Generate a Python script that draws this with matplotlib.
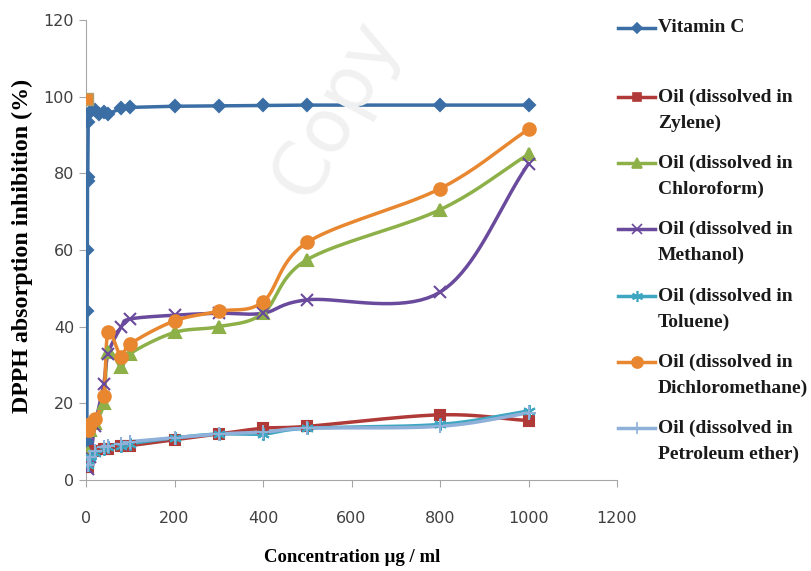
import numpy as np
import matplotlib
matplotlib.use("Agg")
import matplotlib.pyplot as plt
from matplotlib.lines import Line2D

# data
conc_vitc = [2, 2.5, 3, 3.5, 4, 5, 10, 20, 30, 40, 50, 80, 100, 200, 300, 400, 500, 800, 1000]
vitc = [10, 44, 60, 78, 79, 93.5, 96, 96.5, 95.5, 96, 95.5, 97, 97.2, 97.5, 97.6, 97.7, 97.8, 97.8, 97.8]

conc = [5, 10, 20, 40, 50, 80, 100, 200, 300, 400, 500, 800, 1000]
zylene = [3.5, 6, 7.5, 8, 8, 9, 9, 10.5, 12, 13.5, 14, 17, 15.5]
chloroform = [7, 13, 15, 20, 33.5, 29.5, 33, 38.5, 40, 43.5, 57.5, 70.5, 85]
methanol = [3, 6, 14, 25, 33, 40, 42, 43, 43.5, 43.5, 47, 49, 82.5]
toluene = [4, 6, 7, 8, 8.5, 9, 9.5, 11, 12, 12, 13.5, 14.5, 18]
dichloromethane = [13, 14.5, 16, 22, 38.5, 32, 35.5, 41.5, 44, 46.5, 62, 76, 91.5]
petroleum = [4, 6, 7.5, 8.5, 9, 9.5, 10, 11, 12, 12.5, 13.5, 14, 17.5]

# stray orange marker sitting at the top of the vitamin C column
stray_x = [2]
stray_y = [99.5]

labels = ["Vitamin C",
          "Oil (dissolved in\nZylene)",
          "Oil (dissolved in\nChloroform)",
          "Oil (dissolved in\nMethanol)",
          "Oil (dissolved in\nToluene)",
          "Oil (dissolved in\nDichloromethane)",
          "Oil (dissolved in\nPetroleum ether)"]


def smooth(x, y, n=20):
    # catmull-rom curve through the points, like excel "smoothed line"
    x = np.asarray(x, float)
    y = np.asarray(y, float)
    px = np.concatenate([[2 * x[0] - x[1]], x, [2 * x[-1] - x[-2]]])
    py = np.concatenate([[2 * y[0] - y[1]], y, [2 * y[-1] - y[-2]]])
    xs, ys = [], []
    t = np.linspace(0, 1, n)[:, None]
    for i in range(1, len(px) - 2):
        p0, p1, p2, p3 = [np.array([px[j], py[j]]) for j in range(i - 1, i + 3)]
        pts = 0.5 * ((2 * p1) + (-p0 + p2) * t + (2 * p0 - 5 * p1 + 4 * p2 - p3) * t ** 2
                     + (-p0 + 3 * p1 - 3 * p2 + p3) * t ** 3)
        xs.extend(pts[:, 0])
        ys.extend(pts[:, 1])
    return np.array(xs), np.array(ys)


W, H = 811, 571
fig = plt.figure(figsize=(W / 100, H / 100), dpi=100)
ax = fig.add_axes([86 / W, 1 - 480 / H, 531 / W, 460 / H])

# faint watermark
fig.text(0.415, 0.81, "Copy", fontsize=54, color="#f1f1f1", rotation=62,
         ha="center", va="center", family="DejaVu Sans", zorder=0)

series = [
    (conc_vitc, vitc, "#3a6ea5", "D", 6, False),
    (conc, zylene, "#b03a37", "s", 7, True),
    (conc, chloroform, "#8db048", "^", 8, True),
    (conc, methanol, "#6a4a9c", "x", 8, True),
    (conc, toluene, "#3ea6c0", (6, 2, 0), 9, True),
    (conc, dichloromethane, "#e8872f", "o", 9, True),
    (conc, petroleum, "#8fb0d9", "+", 10, True),
]

for x, y, col, mk, ms, sm in series:
    if sm:
        sx, sy = smooth(x, y)
    else:
        sx, sy = x, y
    ax.plot(sx, sy, color=col, lw=2.5, zorder=3)
    ax.plot(x, y, ls="none", marker=mk, ms=ms, color=col, mec=col, mew=1.5, zorder=4)

ax.plot(stray_x, stray_y, ls="none", marker="s", ms=8, color="#e8872f", mec="#b0a070", zorder=5)

ax.set_xlim(0, 1200)
ax.set_ylim(0, 120)
ax.set_xticks(np.arange(0, 1201, 200))
ax.set_yticks(np.arange(0, 121, 20))
for s in ["top", "right"]:
    ax.spines[s].set_visible(False)
for s in ["left", "bottom"]:
    ax.spines[s].set_color("#a6a6a6")
ax.tick_params(colors="#a6a6a6", length=5, labelcolor="#404040", labelsize=11.5)
ax.tick_params(axis="x", pad=17)

fig.text(352 / W, 1 - 557 / H, "Concentration µg / ml", family="Liberation Serif",
         fontweight="bold", fontsize=13.5, ha="center", va="center")
fig.text(22 / W, 1 - 246 / H, "DPPH absorption inhibition (%)", family="Liberation Serif",
         fontweight="bold", fontsize=17.3, ha="center", va="center", rotation=90)

# legend drawn by hand so the key sits on the first text line, as in excel
legend_y = [28, 97, 163, 229, 296, 362, 428]
for (x, y, col, mk, ms, sm), lab, ly in zip(series, labels, legend_y):
    yf = 1 - ly / H
    fig.add_artist(Line2D([618 / W, 655 / W], [yf, yf], color=col, lw=2.5,
                          transform=fig.transFigure))
    fig.add_artist(Line2D([637 / W], [yf], ls="none", marker=mk, ms=ms - 1, color=col,
                          mec=col, mew=1.2, transform=fig.transFigure))
    for k, line in enumerate(lab.split("\n")):
        fig.text(658 / W, 1 - (ly + 26 * k) / H, line, family="Liberation Serif",
                 fontweight="bold", fontsize=14, ha="left", va="center", color="#1a1a1a")

fig.savefig("out.png", dpi=100)
